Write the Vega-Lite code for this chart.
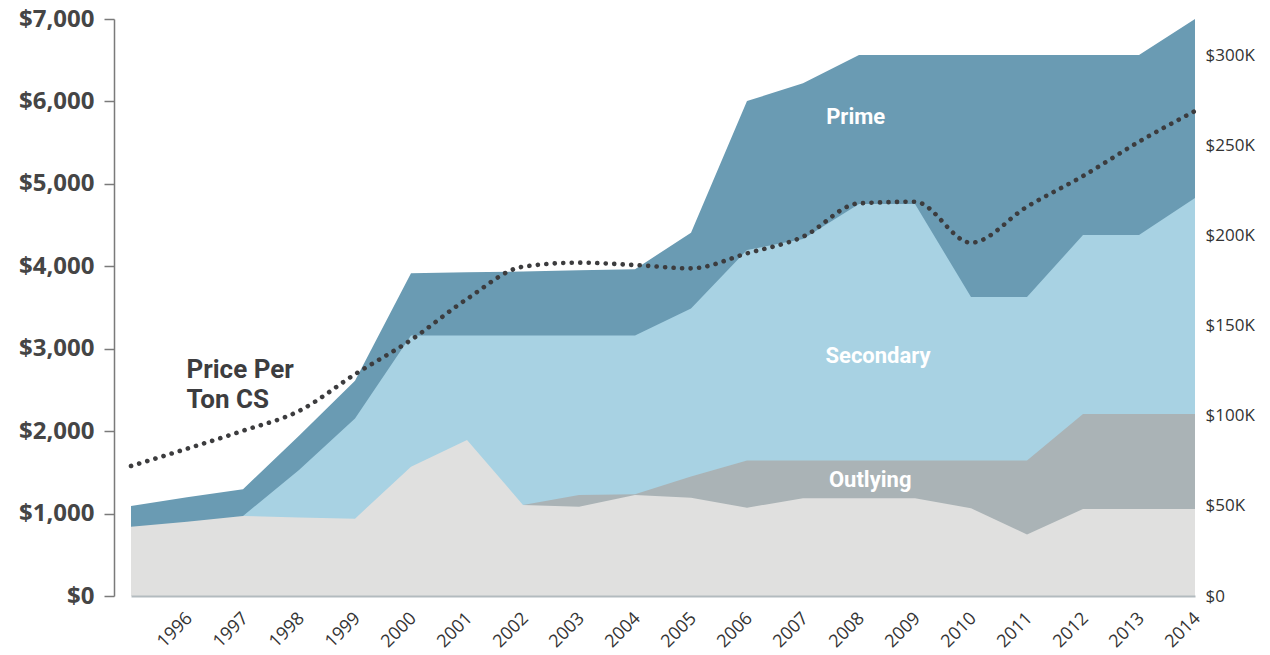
{
  "$schema": "https://vega.github.io/schema/vega-lite/v6.json",
  "autosize": "none",
  "padding": {"left": 131, "top": 19, "right": 75, "bottom": 59},
  "width": 1064,
  "height": 577,
  "background": "white",
  "config": {"view": {"stroke": null}, "font": "Open Sans"},
  "datasets": {
    "series": [
      {"year": 1995, "prime": 49900, "secondary": null, "outlying": null, "base": 38400, "price": 1577},
      {"year": 1996, "prime": 54700, "secondary": null, "outlying": null, "base": 41200, "price": 1787},
      {"year": 1997, "prime": 59200, "secondary": 44400, "outlying": null, "base": 44400, "price": 2005},
      {"year": 1998, "prime": 88900, "secondary": 69900, "outlying": null, "base": 43600, "price": 2244},
      {"year": 1999, "prime": 119400, "secondary": 98500, "outlying": null, "base": 42900, "price": 2690},
      {"year": 2000, "prime": 179000, "secondary": 144500, "outlying": null, "base": 71700, "price": 3106},
      {"year": 2001, "prime": 179500, "secondary": 144500, "outlying": null, "base": 86500, "price": 3603},
      {"year": 2002, "prime": 180000, "secondary": 144500, "outlying": 50500, "base": 50500, "price": 3995},
      {"year": 2003, "prime": 180600, "secondary": 144500, "outlying": 56000, "base": 49500, "price": 4044},
      {"year": 2004, "prime": 181200, "secondary": 144500, "outlying": 56400, "base": 56000, "price": 4015},
      {"year": 2005, "prime": 201500, "secondary": 159500, "outlying": 66300, "base": 54500, "price": 3975},
      {"year": 2006, "prime": 274500, "secondary": 191900, "outlying": 75200, "base": 49000, "price": 4157},
      {"year": 2007, "prime": 284300, "secondary": 198000, "outlying": 75200, "base": 54200, "price": 4359},
      {"year": 2008, "prime": 300000, "secondary": 217400, "outlying": 75200, "base": 54200, "price": 4764},
      {"year": 2009, "prime": 300000, "secondary": 217400, "outlying": 75200, "base": 54200, "price": 4783},
      {"year": 2010, "prime": 300000, "secondary": 165800, "outlying": 75200, "base": 48700, "price": 4286},
      {"year": 2011, "prime": 300000, "secondary": 165800, "outlying": 75200, "base": 34100, "price": 4723},
      {"year": 2012, "prime": 300000, "secondary": 200200, "outlying": 100900, "base": 48300, "price": 5095},
      {"year": 2013, "prime": 300000, "secondary": 200200, "outlying": 100900, "base": 48300, "price": 5511},
      {"year": 2014, "prime": 320000, "secondary": 220700, "outlying": 100900, "base": 48300, "price": 5884}
    ],
    "areaLabels": [
      {"year": 2007.94, "value": 265800, "label": "Prime"},
      {"year": 2008.34, "value": 133100, "label": "Secondary"},
      {"year": 2008.2, "value": 64500, "label": "Outlying"}
    ],
    "lineLabel": [
      {"year": 1995.99, "price": 2640, "label": "Price Per\nTon CS"}
    ]
  },
  "encoding": {
    "x": {
      "field": "year",
      "type": "quantitative",
      "scale": {"domain": [1995, 2014], "nice": false, "zero": false},
      "axis": {
        "title": null,
        "values": [1996, 1997, 1998, 1999, 2000, 2001, 2002, 2003, 2004, 2005, 2006, 2007, 2008, 2009, 2010, 2011, 2012, 2013, 2014],
        "format": "d",
        "labelAngle": -45,
        "labelFont": "Open Sans",
        "labelFontSize": 18,
        "labelColor": "#333333",
        "labelPadding": 13,
        "labelOffset": -4,
        "ticks": false,
        "grid": false,
        "domain": true,
        "domainColor": "#b3bbbf",
        "domainWidth": 2,
        "zindex": 1
      }
    }
  },
  "layer": [
    {
      "data": {"name": "series"},
      "mark": {"type": "area", "color": "#6a9bb3"},
      "encoding": {
        "y": {
          "field": "prime",
          "type": "quantitative",
          "scale": {"domain": [0, 320000], "nice": false},
          "axis": {
            "orient": "right",
            "title": null,
            "values": [0, 50000, 100000, 150000, 200000, 250000, 300000],
            "labelExpr": "datum.value === 0 ? '$0' : '$' + format(datum.value / 1000, 'd') + 'K'",
            "domain": false,
            "ticks": false,
            "grid": false,
            "labelFont": "Open Sans",
            "labelFontSize": 17,
            "labelColor": "#333333",
            "labelPadding": 10
          }
        }
      }
    },
    {
      "data": {"name": "series"},
      "mark": {"type": "area", "color": "#a8d2e3"},
      "encoding": {
        "y": {"field": "secondary", "type": "quantitative", "scale": {"domain": [0, 320000], "nice": false}, "axis": null}
      }
    },
    {
      "data": {"name": "series"},
      "mark": {"type": "area", "color": "#aab3b6"},
      "encoding": {
        "y": {"field": "outlying", "type": "quantitative", "scale": {"domain": [0, 320000], "nice": false}, "axis": null}
      }
    },
    {
      "data": {"name": "series"},
      "mark": {"type": "area", "color": "#e0e0df"},
      "encoding": {
        "y": {"field": "base", "type": "quantitative", "scale": {"domain": [0, 320000], "nice": false}, "axis": null}
      }
    },
    {
      "data": {"name": "areaLabels"},
      "mark": {"type": "text", "color": "#ffffff", "font": "Roboto", "fontWeight": "bold", "fontSize": 22, "align": "center", "baseline": "middle"},
      "encoding": {
        "y": {"field": "value", "type": "quantitative", "scale": {"domain": [0, 320000], "nice": false}, "axis": null},
        "text": {"field": "label"}
      }
    },
    {
      "data": {"name": "series"},
      "mark": {"type": "line", "interpolate": "monotone", "color": "#3c3c3e", "strokeWidth": 4.6, "strokeCap": "round", "strokeDash": [0.1, 8.4]},
      "encoding": {
        "y": {
          "field": "price",
          "type": "quantitative",
          "scale": {"domain": [0, 7000], "nice": false},
          "axis": {
            "orient": "left",
            "title": null,
            "values": [0, 1000, 2000, 3000, 4000, 5000, 6000, 7000],
            "format": "$,d",
            "offset": 17,
            "grid": false,
            "domain": true,
            "domainColor": "#7a7a7a",
            "domainWidth": 1.5,
            "tickColor": "#7a7a7a",
            "tickSize": 10,
            "tickWidth": 1.5,
            "labelFont": "Open Sans",
            "labelFontWeight": "bold",
            "labelFontSize": 24,
            "labelColor": "#454545",
            "labelPadding": 10
          }
        }
      }
    },
    {
      "data": {"name": "lineLabel"},
      "mark": {"type": "text", "color": "#3d3d3f", "font": "Roboto", "fontWeight": "bold", "fontSize": 26, "align": "left", "baseline": "alphabetic", "lineBreak": "\n", "lineHeight": 30},
      "encoding": {
        "y": {"field": "price", "type": "quantitative", "scale": {"domain": [0, 7000], "nice": false}, "axis": null},
        "text": {"field": "label"}
      }
    }
  ],
  "resolve": {"scale": {"y": "independent"}, "axis": {"y": "independent"}}
}
